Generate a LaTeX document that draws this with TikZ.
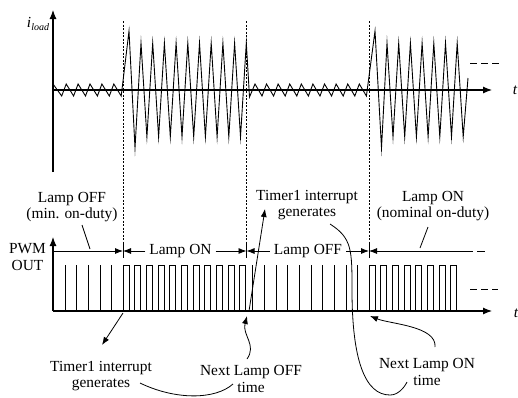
\documentclass[tikz,border=0pt]{standalone}
\usepackage{fontspec}
\setmainfont{Liberation Serif}
\usetikzlibrary{arrows.meta}
\begin{document}
\begin{tikzpicture}[x=1pt,y=-1pt,
  lbl/.style={font=\fontsize{15.4}{16.8}\selectfont, align=center, inner sep=0pt},
  axis/.style={line width=1.1pt},
  wave/.style={line width=0.9pt, line join=miter, miter limit=20},
  pulse/.style={line width=0.8pt},
  vdash/.style={line width=0.7pt, dash pattern=on 2pt off 1.5pt},
  thinl/.style={line width=0.8pt},
  tip/.style={-{Latex[length=8pt,width=6pt]}},
  axtip/.style={-{Latex[length=9pt,width=7pt]}},
  tdash/.style={line width=0.8pt, dash pattern=on 7pt off 4pt},
]
\useasboundingbox (0,0) rectangle (518,397);

% ---------- top plot: load current ----------
\coordinate (yb1) at (53,172);
\coordinate (yt1) at (53,10);
\coordinate (o1) at (53,90);
\coordinate (xe1) at (492,90);
\draw[axis,axtip] (yb1) -- (yt1);
\draw[axis,axtip] (o1) -- (xe1);
\node[lbl] (il) at (38,24) {\itshape i\raisebox{-3pt}{\fontsize{10}{10}\selectfont load}};
\node[lbl] (t1) at (515,90) {\itshape t};

\draw[wave] (53,84)
  \foreach \k in {0,...,4} { -- ({61.7+11.9*\k},96) -- ({66.2+11.9*\k},84) }
  -- (121.2,96) -- (129,31) -- (135,148)
  \foreach \k in {0,...,8} { -- ({141+11.7*\k},43) -- ({146.9+11.7*\k},137) }
  -- (246.3,43) -- (249.5,97) -- (255,84)
  \foreach \k in {0,...,8} { -- ({262+11.6*\k},96) -- ({266.5+11.6*\k},84) }
  -- (366.4,96) -- (375,31) -- (381.5,148)
  \foreach \k in {0,...,6} { -- ({387+11.7*\k},43) -- ({393+11.7*\k},137) }
  -- (468,78);
\draw[tdash] (470,63) -- (500,63);

% ---------- dashed separators ----------
\foreach \x in {123,246.5,369} {
  \draw[vdash] (\x,21) -- (\x,245);
  \draw[thinl] (\x,244) -- (\x,258);
}

% ---------- bottom plot: PWM ----------
\coordinate (yb2) at (53,311);
\coordinate (yt2) at (53,237);
\coordinate (xe2) at (492,311);
\draw[axis,axtip] (yb2) -- (yt2);
\draw[axis,axtip] (yb2) -- (xe2);
\node[lbl] (pwm) at (27.5,257) {PWM\\OUT};
\node[lbl] (t2) at (516,313) {\itshape t};

\foreach \x in {65,76.7,88.3,100,111.7} \draw[pulse] (\x,311) -- (\x,265);
\foreach \k in {0,...,10} \draw[pulse] ({123+11.67*\k},311) -- ++(0,-46) -- ++(6,0) -- ++(0,46);
\foreach \k in {0,...,9} \draw[pulse] ({252.7+11.67*\k},311) -- ++(0,-46);
\foreach \k in {0,...,7} \draw[pulse] ({369+11.67*\k},311) -- ++(0,-46) -- ++(6,0) -- ++(0,46);
\draw[tdash] (470,289) -- (498,289);

% ---------- interval arrows ----------
\coordinate (a0) at (53,251);
\coordinate (m1) at (123,251);
\coordinate (m2) at (246.5,251);
\coordinate (m3) at (369,251);
\coordinate (a4) at (465,251);
\coordinate (a5) at (488,251);
\node[lbl, inner xsep=4pt] (lon) at (180.5,251) {Lamp ON};
\node[lbl, inner xsep=4pt] (loff) at (308,251) {Lamp OFF};
\draw[thinl,tip] (a0) -- (m1);
\draw[thinl,tip] (lon.west) -- (m1);
\draw[thinl,tip] (lon.east) -- (m2);
\draw[thinl,tip] (loff.west) -- (m2);
\draw[thinl,tip] (loff.east) -- (m3);
\draw[thinl,tip] (a4) -- (m3);
\draw[thinl, dash pattern=on 8pt off 4pt] (a4) -- (a5);

% ---------- annotations ----------
\node[lbl] (offmin) at (72,207) {Lamp OFF\\(min. on-duty)};
\node[lbl] (tirq1) at (307,205) {Timer1 interrupt\\generates};
\node[lbl] (onnom) at (433,206) {Lamp ON\\(nominal on-duty)};
\node[lbl] (tirq2) at (101,376) {Timer1 interrupt\\generates};
\node[lbl] (nloff) at (251,379) {Next Lamp OFF\\time};
\node[lbl] (nlon) at (427,372) {Next Lamp ON\\time};

\coordinate (s1a) at (82,225);
\coordinate (s1b) at (90,249);
\draw[thinl] (s1a) -- (s1b);
\coordinate (s2a) at (428,227);
\coordinate (s2b) at (420,248);
\draw[thinl] (s2a) -- (s2b);

\coordinate (p1) at (249,311);
\coordinate (p1t) at (265,209);
\draw[thinl,tip] (p1) -- (p1t);

\coordinate (p2) at (123,313);
\coordinate (p2t) at (102,345);
\draw[thinl,tip] (p2) -- (p2t);

\coordinate (c1a) at (140,383);
\coordinate (c1b) at (233,384);
\draw[thinl] (c1a) .. controls (175,400) and (215,400) .. (c1b);

\coordinate (c2a) at (247,359);
\coordinate (c2t) at (247,316);
\draw[thinl,tip] (c2a) .. controls (257,345) and (242,335) .. (c2t);

\coordinate (c3a) at (330,224);
\coordinate (c3m) at (352,290);
\coordinate (c3b) at (407,382);
\draw[thinl] (c3a) .. controls (352,238) and (352,250) .. (c3m)
  .. controls (352,360) and (365,395) .. (390,395)
  .. controls (398,395) and (404,388) .. (c3b);

\coordinate (c4a) at (435,347);
\coordinate (c4t) at (370,316);
\draw[thinl,tip] (c4a) .. controls (437,326) and (390,324) .. (c4t);
\end{tikzpicture}
\end{document}
